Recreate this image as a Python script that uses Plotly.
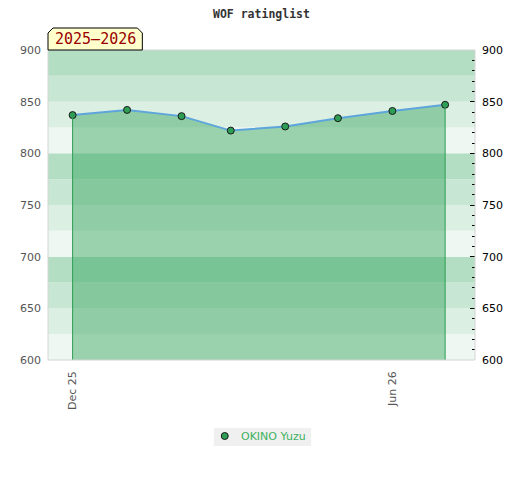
import plotly.graph_objects as go

# monthly rating points
dates = ['2025-12-01', '2026-01-01', '2026-02-01', '2026-03-01',
         '2026-04-01', '2026-05-01', '2026-06-01', '2026-07-01']
ratings = [837, 842, 836, 822, 826, 834, 841, 847]
player = 'OKINO Yuzu'
season = '2025\u20132026'

tick_dates = ['2025-12-01', '2026-06-01']
tick_text = ['Dec 25', 'Jun 26']
y_ticks = [600, 650, 700, 750, 800, 850, 900]

y_min, y_max = 600, 900
band_cols = ['#eff7f2', '#dcefe3', '#c8e6d4', '#b3dec4']  # repeats every 100
marker_col = '#2e9e55'

fig = go.Figure()

# filled area under the rating line
fig.add_trace(go.Scatter(
    x=dates, y=ratings, mode='lines', fill='tozeroy',
    fillcolor='rgba(52,165,92,0.45)',
    line=dict(color='#5da5da', width=2),
    showlegend=False, hoverinfo='skip'))

# vertical edges of the filled area
fig.add_trace(go.Scatter(
    x=[dates[0], dates[0], None, dates[-1], dates[-1]],
    y=[y_min, ratings[0], None, y_min, ratings[-1]],
    mode='lines', line=dict(color=marker_col, width=1),
    showlegend=False, hoverinfo='skip', yaxis='y2'))

fig.add_trace(go.Scatter(
    x=dates, y=ratings, mode='markers', name=player, showlegend=False,
    marker=dict(color=marker_col, size=7, line=dict(color='#1a1a1a', width=1))))

# plot area is 430x310 px; helpers to place things in px relative to it
PW, PH = 430, 310
def px_x(v):
    return v / PW
def px_y(v):
    return 1 - v / PH

shapes = []
for i, lo in enumerate(range(y_min, y_max, 25)):
    shapes.append(dict(type='rect', xref='paper', x0=0, x1=1, yref='y',
                       y0=lo, y1=lo + 25, fillcolor=band_cols[i % 4],
                       line_width=0, layer='below'))
shapes.append(dict(type='rect', xref='paper', yref='paper', x0=0, x1=1, y0=0, y1=1,
                   line=dict(color='#d4d4d4', width=1), layer='above'))

# season tag with clipped top corners
w, h = px_x(95), 22 / PH
cx, cy = px_x(5), 5 / PH
path = (f'M 0 1 L 0 {1 + h - cy} L {cx} {1 + h} L {w - cx} {1 + h} '
        f'L {w} {1 + h - cy} L {w} 1 Z')
shapes.append(dict(type='path', xref='paper', yref='paper', path=path,
                   fillcolor='#ffffcc', line=dict(color='#000000', width=1)))

# legend, drawn by hand to get the compact box
shapes.append(dict(type='rect', xref='paper', yref='paper',
                   x0=px_x(167), x1=px_x(265), y0=px_y(396), y1=px_y(378),
                   fillcolor='#f0f0f0', line_width=0))
shapes.append(dict(type='circle', xref='paper', yref='paper',
                   xsizemode='pixel', ysizemode='pixel',
                   xanchor=px_x(178), yanchor=px_y(386),
                   x0=-3.5, x1=3.5, y0=-3.5, y1=3.5,
                   fillcolor=marker_col, line=dict(color='#1a1a1a', width=1)))

# title as an annotation (page body adds 8px; margins offset to compensate)
title_ann = dict(text='<b>WOF ratinglist</b>', xref='paper', yref='paper',
                 x=px_x(252.5 - 37), y=1 + 36 / PH, xanchor='center', yanchor='middle',
                 showarrow=False,
                 font=dict(family='DejaVu Sans Mono', size=11.5, color='#333333'))

fig.update_layout(
    width=520, height=480,
    margin=dict(l=37, r=53, t=42, b=128),
    paper_bgcolor='white', plot_bgcolor='white',
    font=dict(family='DejaVu Sans', size=11, color='#555555'),
    shapes=shapes,
    annotations=[
        title_ann,
        dict(text=season, xref='paper', yref='paper', x=w / 2, y=1 + h / 2,
             xanchor='center', yanchor='middle', showarrow=False,
             font=dict(family='DejaVu Sans Mono', size=15, color='#990000')),
        dict(text=player, xref='paper', yref='paper', x=px_x(192), y=px_y(386),
             xanchor='left', yanchor='middle', showarrow=False,
             font=dict(family='DejaVu Sans', size=11, color='#3cb060')),
    ],
    xaxis=dict(type='date', range=['2025-11-17', '2026-07-18'],
               tickvals=tick_dates, ticktext=tick_text, tickangle=-90,
               showgrid=False, zeroline=False, ticks='', ticklabelstandoff=8,
               fixedrange=True),
    yaxis=dict(range=[y_min, y_max], tickvals=y_ticks, showgrid=False,
               zeroline=False, ticks='',
               ticklabelstandoff=6, tickfont=dict(color='#555555')),
    yaxis2=dict(range=[y_min, y_max], overlaying='y', side='right', tickvals=y_ticks,
                showgrid=False, zeroline=False, ticks='inside', ticklen=5,
                tickcolor='#000000', tickfont=dict(color='#000000'), ticklabelstandoff=6,
                minor=dict(dtick=10, ticks='inside', ticklen=3, tickcolor='#000000')),
    showlegend=False,
    hovermode='closest',
)

fig.write_html('out.html')
